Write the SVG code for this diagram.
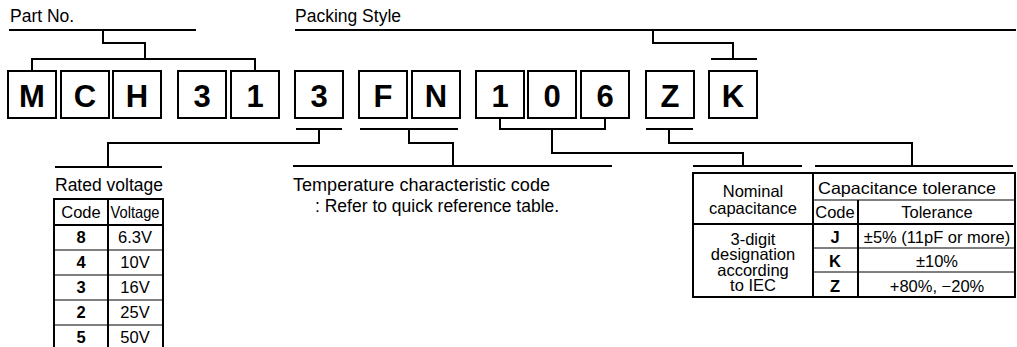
<svg xmlns="http://www.w3.org/2000/svg" width="1017" height="347" viewBox="0 0 1017 347">
<style>
text{font-family:"Liberation Sans",Arial,sans-serif;fill:#000}
.lbl{font-size:17.5px}
.t{font-size:16.5px;text-anchor:middle}
.tb{font-size:16.5px;text-anchor:middle;font-weight:bold}
.box rect{fill:#fff;stroke:#000;stroke-width:2}
.box text{font-size:31px;font-weight:bold;text-anchor:middle}
.c path{fill:none;stroke:#000;stroke-width:2}
.thick{fill:none;stroke:#000;stroke-width:2}
.thin{fill:none;stroke:#000;stroke-width:1}
</style>
<g id="labels">
<text class="lbl" x="10" y="22">Part No.</text>
<text class="lbl" x="295" y="22">Packing Style</text>
<text class="lbl" x="55" y="191">Rated voltage</text>
<text class="lbl" x="293" y="191" textLength="257" lengthAdjust="spacingAndGlyphs">Temperature characteristic code</text>
<text class="lbl" x="315" y="212">: Refer to quick reference table.</text>
</g>
<g id="n-M" class="box"><rect x="8" y="71" width="48" height="47"/><text x="32" y="107">M</text></g>
<g id="n-C" class="box"><rect x="61" y="71" width="48" height="47"/><text x="85" y="107">C</text></g>
<g id="n-H" class="box"><rect x="113" y="71" width="48" height="47"/><text x="137" y="107">H</text></g>
<g id="n-3a" class="box"><rect x="178" y="71" width="48" height="47"/><text x="202" y="107">3</text></g>
<g id="n-1a" class="box"><rect x="231" y="71" width="48" height="47"/><text x="255" y="107">1</text></g>
<g id="n-3b" class="box"><rect x="295" y="71" width="48" height="47"/><text x="319" y="107">3</text></g>
<g id="n-F" class="box"><rect x="359" y="71" width="48" height="47"/><text x="383" y="107">F</text></g>
<g id="n-N" class="box"><rect x="412" y="71" width="48" height="47"/><text x="436" y="107">N</text></g>
<g id="n-1b" class="box"><rect x="476" y="71" width="48" height="47"/><text x="500" y="107">1</text></g>
<g id="n-0" class="box"><rect x="528" y="71" width="48" height="47"/><text x="552" y="107">0</text></g>
<g id="n-6" class="box"><rect x="581" y="71" width="48" height="47"/><text x="605" y="107">6</text></g>
<g id="n-Z" class="box"><rect x="646" y="71" width="48" height="47"/><text x="670" y="107">Z</text></g>
<g id="n-K" class="box"><rect x="709" y="71" width="48" height="47"/><text x="733" y="107">K</text></g>
<g id="connectors" class="c">
<path d="M9 30H196M103 30V43H145V59M32 71V59H255V71"/>
<path d="M295 30H1016M653 30V43H733V59M711 59H757"/>
<path d="M296 129H342M319 129V143H108V167M55 167H162"/>
<path d="M360 129H458M409 129V143H453V166M293 166H612"/>
<path d="M500 118V129H605V118M552 129V153H743V166M693 166H802"/>
<path d="M646 129H693M669 129V143H912V166M815 166H1013"/>
</g>
<g id="voltage-table">
<path class="thin" d="M54 250H163M54 275H163M54 300H163M54 325H163"/>
<path class="thick" d="M54 352V199H163V352M108 199V352M54 225H163"/>
<text class="t" x="81" y="218">Code</text>
<text class="t" x="135" y="218" textLength="49" lengthAdjust="spacingAndGlyphs">Voltage</text>
<text class="tb" x="81" y="243">8</text><text class="t" x="135" y="243">6.3V</text>
<text class="tb" x="81" y="268">4</text><text class="t" x="135" y="268">10V</text>
<text class="tb" x="81" y="293">3</text><text class="t" x="135" y="293">16V</text>
<text class="tb" x="81" y="318">2</text><text class="t" x="135" y="318">25V</text>
<text class="tb" x="81" y="343">5</text><text class="t" x="135" y="343">50V</text>
</g>
<g id="cap-table">
<path class="thin" d="M813 200H1015M813 248H1015M813 272H1015"/>
<path class="thick" d="M693 173H1015V297H693ZM813 173V297M858 200V297M693 224H1015"/>
<text class="t" x="753" y="197">Nominal</text>
<text class="t" x="753" y="214">capacitance</text>
<text class="t" x="907" y="194" textLength="178" lengthAdjust="spacingAndGlyphs">Capacitance tolerance</text>
<text class="t" x="835" y="218">Code</text>
<text class="t" x="937" y="218">Tolerance</text>
<text class="t" x="753" y="245">3-digit</text>
<text class="t" x="753" y="260">designation</text>
<text class="t" x="753" y="276">according</text>
<text class="t" x="753" y="291">to IEC</text>
<text class="tb" x="835" y="243">J</text><text class="t" x="937" y="243">±5% (11pF or more)</text>
<text class="tb" x="835" y="267">K</text><text class="t" x="937" y="267">±10%</text>
<text class="tb" x="835" y="292">Z</text><text class="t" x="937" y="292">+80%, −20%</text>
</g>
</svg>
